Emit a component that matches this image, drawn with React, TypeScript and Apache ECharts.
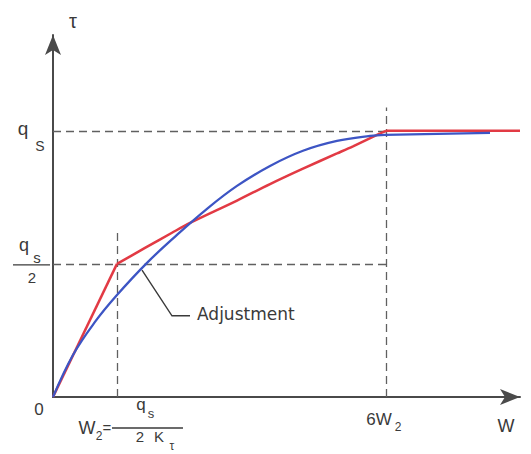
import React, { useEffect, useRef } from "react";
import * as echarts from "echarts";

// Schematic units: x in arbitrary length units (axis 0..100), y in units of q_s.
const X_MAX = 100;
const Y_MAX = 1.36;
const W2 = 13.7;
const W6 = 71.31;
const QS = 1;
const QS_HALF = 0.5;

const redRise: number[][] = [[0, 0], [W2, QS_HALF]];
const redCurve: number[][] = [
  [W2, QS_HALF], [19.7, 0.56], [25.48, 0.617], [29.34, 0.654], [39.4, 0.738],
  [46.47, 0.8], [53.53, 0.858], [60.81, 0.915], [64.24, 0.942], [69.38, 0.985], [W6, QS],
];
const redFlat: number[][] = [[W6, QS], [100, QS]];

const blueCurve: number[][] = [
  [0, 0], [4.28, 0.158], [8.99, 0.282], [13.7, 0.383], [20.13, 0.504],
  [26.55, 0.609], [32.98, 0.707], [39.4, 0.793], [46.47, 0.868], [53.53, 0.925],
  [60.81, 0.962], [67.88, 0.981], [71.09, 0.985],
];
const blueFlat: number[][] = [[71.09, 0.985], [93.58, 0.992]];

const guideLines: number[][][] = [
  [[0, QS], [W6, QS]],
  [[0, QS_HALF], [W6, QS_HALF]],
  [[W2, 0], [W2, 0.617]],
  [[W6, 0], [W6, 1.088]],
];

const leader: number[][] = [[29.34, 0.305], [25.48, 0.305], [19.06, 0.477]];
const annotationText = "Adjustment";

const TEXT_COLOR = "#3a3a3a";
const FONT = "'Liberation Sans', Arial, sans-serif";

export default function App() {
  const ref = useRef<HTMLDivElement>(null);
  useEffect(() => {
    if (!ref.current) return;
    const chart = echarts.init(ref.current, undefined, { renderer: "svg" });
    const axisLine = {
      show: true,
      symbol: ["none", "arrow"],
      symbolSize: [12, 20],
      lineStyle: { color: "#4a4a4a", width: 2 },
    };
    chart.setOption({
      animation: false,
      grid: { left: 53, right: 11, top: 35, bottom: 57 },
      xAxis: {
        type: "value", min: 0, max: X_MAX,
        axisLine, axisTick: { show: false }, axisLabel: { show: false }, splitLine: { show: false },
      },
      yAxis: {
        type: "value", min: 0, max: Y_MAX,
        axisLine, axisTick: { show: false }, axisLabel: { show: false }, splitLine: { show: false },
      },
      series: [
        {
          type: "lines", coordinateSystem: "cartesian2d", silent: true, z: 1,
          lineStyle: { color: "#606060", width: 1.3, type: [8, 5], opacity: 1 },
          data: guideLines.map((c) => ({ coords: c })),
        },
        {
          type: "lines", coordinateSystem: "cartesian2d", polyline: true, silent: true, z: 1,
          symbol: ["none", "arrow"], symbolSize: 8,
          lineStyle: { color: "#3a3a3a", width: 1.4, opacity: 1 },
          data: [{ coords: leader }],
        },
        { type: "line", data: redRise, showSymbol: false, lineStyle: { color: "#e23a44", width: 2.5 }, z: 3 },
        { type: "line", data: redCurve, smooth: 0.3, showSymbol: false, lineStyle: { color: "#e23a44", width: 2.5 }, z: 3 },
        { type: "line", data: redFlat, showSymbol: false, lineStyle: { color: "#e23a44", width: 2.5 }, z: 3 },
        { type: "line", data: blueCurve, smooth: 0.4, showSymbol: false, lineStyle: { color: "#3d55c4", width: 2.3 }, z: 4 },
        { type: "line", data: blueFlat, showSymbol: false, lineStyle: { color: "#3d55c4", width: 2.3 }, z: 4 },
      ],
    });

    const px = (p: number[]) => chart.convertToPixel({ gridIndex: 0 }, p) as number[];
    const o = px([0, 0]);
    const yEnd = px([0, Y_MAX]);
    const xEnd = px([X_MAX, 0]);
    const qs = px([0, QS]);
    const qh = px([0, QS_HALF]);
    const w2 = px([W2, 0]);
    const w6 = px([W6, 0]);
    const le = px(leader[0]);

    const t = (text: string, x: number, y: number, size: number, align = "center", family = FONT) => ({
      type: "text", x, y, silent: true,
      style: { text, fill: TEXT_COLOR, font: `${size}px ${family}`, textAlign: align, textVerticalAlign: "middle" },
    });
    const bar = (x1: number, x2: number, y: number) => ({
      type: "line", silent: true,
      shape: { x1, y1: y, x2, y2: y },
      style: { stroke: TEXT_COLOR, lineWidth: 1.3 },
    });

    chart.setOption({
      graphic: [
        t("τ", yEnd[0] + 20, yEnd[1] - 14, 20),
        t("q", qs[0] - 30, qs[1] - 2, 19),
        t("S", qs[0] - 13, qs[1] + 15, 14),
        t("q", qh[0] - 29, qh[1] - 19, 18),
        t("s", qh[0] - 16, qh[1] - 6, 15),
        bar(qh[0] - 40, qh[0] - 3, qh[1] + 1),
        t("2", qh[0] - 21, qh[1] + 14, 15),
        t("0", o[0] - 14, o[1] + 12, 17),
        t("W", w2[0] - 30, w2[1] + 31, 18),
        t("2", w2[0] - 18, w2[1] + 39, 12),
        t("=", w2[0] - 10, w2[1] + 30, 15),
        bar(w2[0] - 5, w2[0] + 66, w2[1] + 31),
        t("q", w2[0] + 24, w2[1] + 7, 17),
        t("s", w2[0] + 34, w2[1] + 16, 13),
        t("2", w2[0] + 23, w2[1] + 39, 15),
        t("K", w2[0] + 42, w2[1] + 39, 15),
        t("τ", w2[0] + 55, w2[1] + 49, 12),
        t("6W", w6[0] - 7, w6[1] + 22, 17),
        t("2", w6[0] + 12, w6[1] + 30, 12),
        t("W", xEnd[0] - 14, xEnd[1] + 29, 18),
        t(annotationText, le[0] + 7, le[1] - 2, 17, "left", "'DejaVu Sans', sans-serif"),
      ],
    });
    return () => chart.dispose();
  }, []);
  return <div ref={ref} style={{ position: "fixed", left: 0, top: 0, width: 531, height: 454, background: "#fff" }} />;
}
